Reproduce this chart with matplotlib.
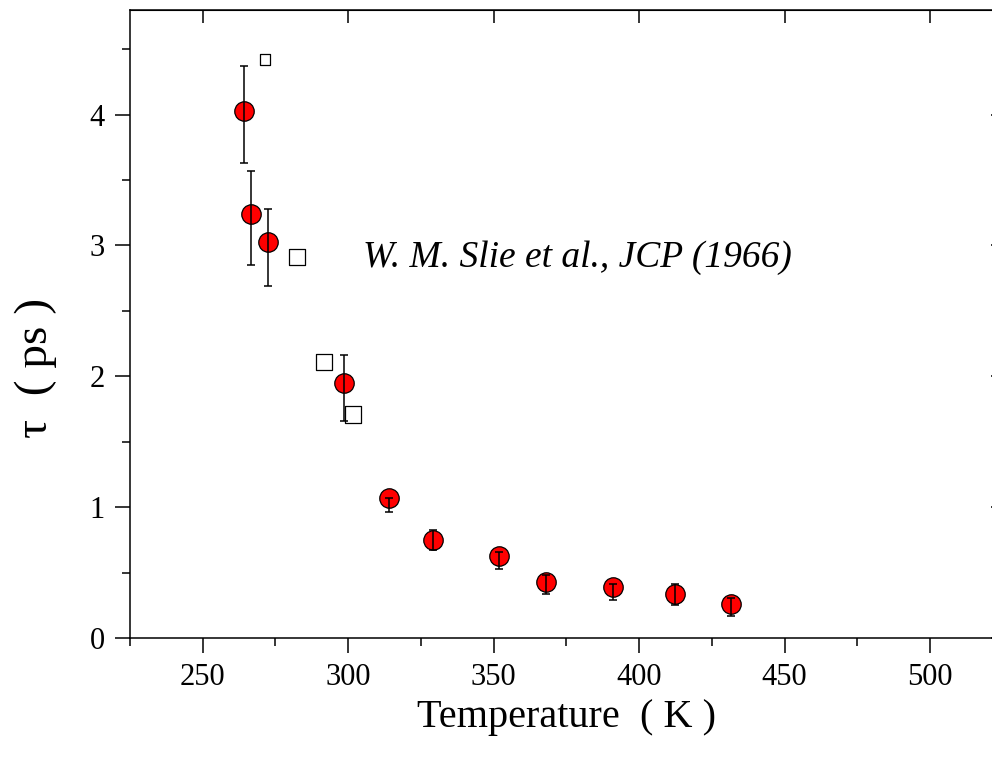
import matplotlib
matplotlib.use("Agg")
import matplotlib.pyplot as plt
from matplotlib.ticker import MultipleLocator

plt.rcParams['font.family'] = ['Liberation Serif', 'DejaVu Serif']

# measured relaxation times (red circles)
temp = [264.2, 266.6, 272.5, 298.6, 314.1, 329.2, 351.9, 368.0, 391.0, 412.4, 431.7]
tau = [4.03, 3.24, 3.03, 1.95, 1.07, 0.75, 0.63, 0.43, 0.39, 0.34, 0.26]
err_low = [0.40, 0.39, 0.34, 0.29, 0.11, 0.08, 0.10, 0.09, 0.10, 0.09, 0.09]
err_high = [0.34, 0.33, 0.25, 0.21, 0.00, 0.08, 0.03, 0.05, 0.02, 0.07, 0.05]

# Slie et al. (open squares)
slie_temp = [271.4, 282.4, 291.7, 301.7]
slie_tau = [4.42, 2.91, 2.11, 1.71]
slie_size = [60, 140, 140, 140]

fig = plt.figure(figsize=(9.92, 7.57), dpi=100)
ax = fig.add_axes([0.131, 0.157, 0.880, 0.830])

ax.scatter(slie_temp, slie_tau, s=slie_size, marker='s', facecolors='white',
           edgecolors='black', linewidths=0.9, zorder=3)
ax.plot(temp, tau, 'o', ms=14, mfc='red', mec='black', mew=0.9, zorder=3)
ax.errorbar(temp, tau, yerr=[err_low, err_high], fmt='none', ecolor='black',
            elinewidth=1.1, capsize=3, capthick=1.1, zorder=4)

ax.text(0.267, 0.605, 'W. M. Slie et al., JCP (1966)', transform=ax.transAxes,
        fontsize=27, style='italic', va='center', ha='left')

ax.set_xlim(225, 525)
ax.set_ylim(0, 4.8)
ax.xaxis.set_major_locator(MultipleLocator(50))
ax.xaxis.set_minor_locator(MultipleLocator(25))
ax.yaxis.set_major_locator(MultipleLocator(1))
ax.yaxis.set_minor_locator(MultipleLocator(0.5))

ax.tick_params(which='major', direction='out', length=11, width=1.1, labelsize=22, pad=7)
ax.tick_params(which='minor', direction='out', length=6, width=1.1)
for sp in ax.spines.values():
    sp.set_linewidth(1.1)

# inward ticks on top and right, no labels
top = ax.secondary_xaxis('top')
top.set_xticks([250, 300, 350, 400, 450, 500])
top.tick_params(direction='in', length=9, width=1.1, labeltop=False)
right = ax.secondary_yaxis('right')
right.set_yticks([0, 1, 2, 3, 4])
right.tick_params(direction='in', length=9, width=1.1, labelright=False)

ax.set_xlabel('Temperature  ( K )', fontsize=29, labelpad=5)
ax.set_ylabel('τ  ( ps )', fontsize=34)
ax.yaxis.set_label_coords(-0.084, 0.43)

fig.savefig('out.png', dpi=100)
